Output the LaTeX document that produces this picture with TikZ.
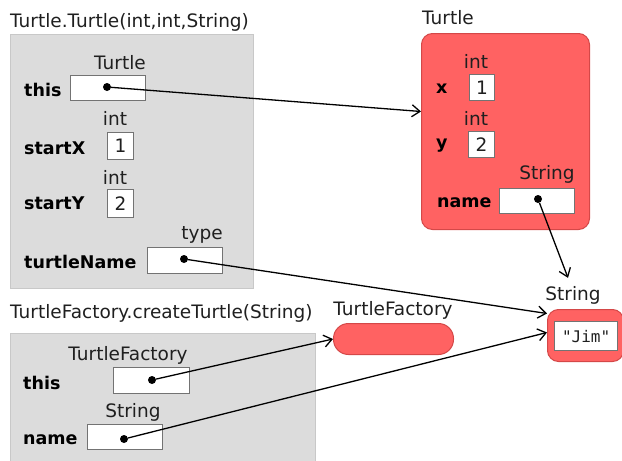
\documentclass[tikz,border=0pt]{standalone}
\usepackage{fontspec}
\setmainfont{DejaVu Sans}
\setmonofont{DejaVu Sans Mono}
\usepackage{xcolor}
\usepackage{tikz}
\usetikzlibrary{arrows.meta, positioning, calc}
\definecolor{framegray}{RGB}{220, 220, 220}
\definecolor{frameedge}{RGB}{200, 200, 200}
\definecolor{objred}{RGB}{255, 98, 98}
\definecolor{objedge}{RGB}{212, 72, 72}
\definecolor{slotedge}{RGB}{115, 115, 115}

\begin{document}
\begin{tikzpicture}[x=1pt, y=-1pt, >={Straight Barb[length=8pt, width=12pt]},
    every node/.style={font=\fontsize{18.5}{21}\selectfont, text=black!88, inner sep=0pt},
    frame/.style={draw=frameedge, line width=1pt, fill=framegray, anchor=north west},
    obj/.style={draw=objedge, line width=1pt, fill=objred, rounded corners=11pt, anchor=north west},
    slot/.style={draw=slotedge, line width=1.2pt, fill=white, anchor=north west},
    var/.style={font=\fontsize{17.5}{20}\selectfont\bfseries, text=black, anchor=west},
    ref/.style={circle, fill=black, minimum size=8pt},
    link/.style={->, line width=1.3pt}]
    \useasboundingbox (0,0) rectangle (622,461);

    % constructor frame
    \node[anchor=west] (ctortitle) at (10,22) {Turtle.Turtle(int,int,String)};
    \node[frame, minimum width=243, minimum height=254] (ctorframe) at (10,34) {};
    \node (thistype) at (120,63) {Turtle};
    \node[var] (thisvar) at (24,90) {this};
    \node[slot, minimum width=75, minimum height=25] (thisslot) at (70,75) {};
    \node[ref] (thisref) at (107,87) {};
    \node (sxtype) at (115,118) {int};
    \node[var] (sxvar) at (24,148) {startX};
    \node[slot, minimum width=26, minimum height=27] (sxslot) at (107,132) {1};
    \node (sytype) at (115,177) {int};
    \node[var] (syvar) at (24,203) {startY};
    \node[slot, minimum width=26, minimum height=28] (syslot) at (107,189) {2};
    \node (tntype) at (202,235) {type};
    \node[var] (tnvar) at (24,262) {turtleName};
    \node[slot, minimum width=75, minimum height=26] (tnslot) at (147,247) {};
    \node[ref] (tnref) at (184,259) {};

    % Turtle object
    \node[anchor=west] (turtletitle) at (422,18) {Turtle};
    \node[obj, minimum width=168, minimum height=196] (turtleobj) at (421,33) {};
    \node (xtype) at (476,61) {int};
    \node[var] (xvar) at (436,89) {x};
    \node[slot, minimum width=25, minimum height=26] (xslot) at (469,74) {1};
    \node (ytype) at (476,118) {int};
    \node[var] (yvar) at (436,146) {y};
    \node[slot, minimum width=26, minimum height=26] (yslot) at (468,131) {2};
    \node (nametype) at (547,174) {String};
    \node[var] (namevar) at (437,203) {name};
    \node[slot, minimum width=75, minimum height=25] (nameslot) at (499,188) {};
    \node[ref] (nameref) at (538,199) {};

    % String object
    \node (strtype) at (573,295) {String};
    \node[obj, minimum width=76, minimum height=52] (strobj) at (547,309) {};
    \node[slot, minimum width=63, minimum height=29, font=\fontsize{16}{18}\ttfamily] (strslot) at (554,321) {"Jim"};

    % factory method frame
    \node[anchor=west] (facttitle) at (10,313) {TurtleFactory.createTurtle(String)};
    \node[frame, minimum width=305, minimum height=130] (factframe) at (10,333) {};
    \node (fthistype) at (128,355) {TurtleFactory};
    \node[var] (fthisvar) at (23,383) {this};
    \node[slot, minimum width=76, minimum height=26] (fthisslot) at (113,367) {};
    \node[ref] (fthisref) at (152,380) {};
    \node (fnametype) at (133,412) {String};
    \node[var] (fnamevar) at (23,440) {name};
    \node[slot, minimum width=75, minimum height=25] (fnameslot) at (87,424) {};
    \node[ref] (fnameref) at (124,439) {};

    % TurtleFactory object
    \node (facttype) at (393,310) {TurtleFactory};
    \node[obj, rounded corners=15pt, minimum width=120, minimum height=31] (factobj) at (333,323) {};

    % references
    \draw[link] (thisref) -- ([yshift=20pt]turtleobj.west);
    \draw[link] (nameref) -- ([shift={(-5pt,8pt)}]strtype.north);
    \draw[link] (tnref) -- ([yshift=22pt]strobj.west);
    \draw[link] (fthisref) -- (factobj.west);
    \draw[link] (fnameref) -- ([yshift=3pt]strobj.west);
\end{tikzpicture}
\end{document}
